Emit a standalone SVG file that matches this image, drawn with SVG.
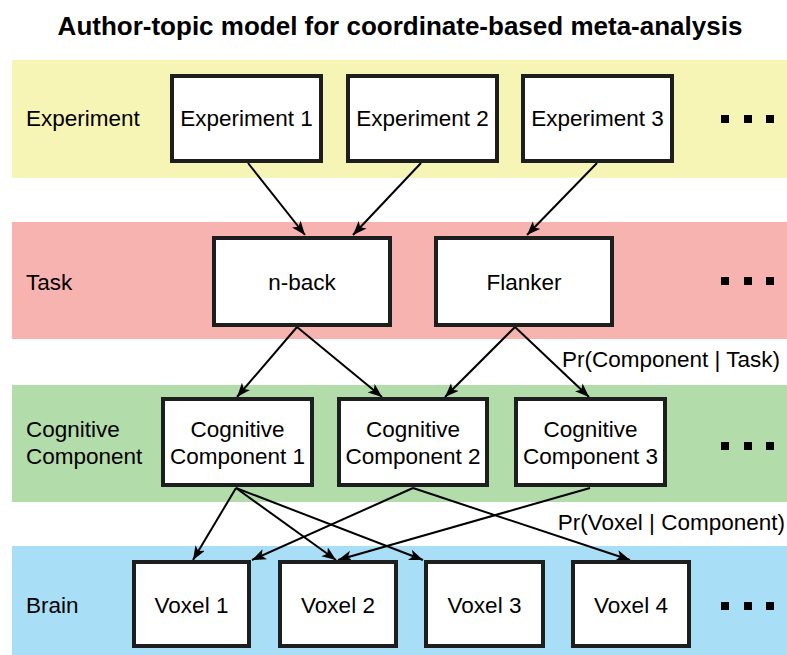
<svg xmlns="http://www.w3.org/2000/svg" width="787" height="655" viewBox="0 0 787 655">
<defs>
<style>
.t{font-family:"Liberation Sans",Arial,sans-serif;font-size:22.5px;fill:#000}
.c{text-anchor:middle}
.title{font-family:"Liberation Sans",Arial,sans-serif;font-size:26px;font-weight:bold;text-anchor:middle;fill:#000}
.box{fill:#fff;stroke:#1c1f1e;stroke-width:4}
.edge{stroke:#000;stroke-width:2;fill:none;marker-end:url(#ah)}
.dot{fill:#000}
</style>
<marker id="ah" markerUnits="userSpaceOnUse" markerWidth="15" markerHeight="12" refX="14" refY="5.5" orient="auto">
<path d="M0,0 L14,5.5 L0,11 L3.5,5.5 z" fill="#000"/>
</marker>
</defs>
<rect width="787" height="655" fill="#fff"/>
<text class="title" x="400" y="35">Author-topic model for coordinate-based meta-analysis</text>

<g id="bands">
<rect x="12" y="60" width="775" height="118" fill="#f7f5b6"/>
<rect x="12" y="222" width="775" height="117" fill="#f7b3b0"/>
<rect x="12" y="385" width="775" height="117" fill="#b3dcab"/>
<rect x="12" y="546" width="775" height="109" fill="#a8dff6"/>
</g>

<g id="row-labels">
<text class="t" x="26" y="126">Experiment</text>
<text class="t" x="26" y="290">Task</text>
<text class="t" x="26" y="437">Cognitive</text>
<text class="t" x="26" y="464">Component</text>
<text class="t" x="26" y="613">Brain</text>
</g>

<g id="connectors">
<line class="edge" x1="248" y1="163" x2="305" y2="235"/>
<line class="edge" x1="421" y1="163" x2="353" y2="235"/>
<line class="edge" x1="597" y1="163" x2="527" y2="235"/>
<line class="edge" x1="297" y1="327" x2="237" y2="397"/>
<line class="edge" x1="297" y1="327" x2="382" y2="397"/>
<line class="edge" x1="515" y1="327" x2="445" y2="397"/>
<line class="edge" x1="515" y1="327" x2="589" y2="397"/>
<line class="edge" x1="236" y1="488" x2="193" y2="560"/>
<line class="edge" x1="236" y1="488" x2="336" y2="560"/>
<line class="edge" x1="236" y1="488" x2="423" y2="560"/>
<line class="edge" x1="413" y1="488" x2="252" y2="560"/>
<line class="edge" x1="413" y1="488" x2="630" y2="560"/>
<line class="edge" x1="590" y1="488" x2="338" y2="560"/>
</g>

<g id="edge-labels">
<text class="t" x="780" y="367" text-anchor="end">Pr(Component | Task)</text>
<text class="t" x="785" y="530" text-anchor="end">Pr(Voxel | Component)</text>
</g>

<g id="exp1"><rect class="box" x="172" y="76" width="149" height="85"/><text class="t c" x="246.5" y="126">Experiment 1</text></g>
<g id="exp2"><rect class="box" x="348" y="76" width="149" height="85"/><text class="t c" x="422.5" y="126">Experiment 2</text></g>
<g id="exp3"><rect class="box" x="523" y="76" width="149" height="85"/><text class="t c" x="597.5" y="126">Experiment 3</text></g>

<g id="nback"><rect class="box" x="214" y="238" width="176" height="87"/><text class="t c" x="302" y="290">n-back</text></g>
<g id="flanker"><rect class="box" x="436" y="238" width="176" height="87"/><text class="t c" x="524" y="290">Flanker</text></g>

<g id="cc1"><rect class="box" x="163" y="399" width="149" height="86"/><text class="t c" x="237.5" y="437">Cognitive</text><text class="t c" x="237.5" y="464">Component 1</text></g>
<g id="cc2"><rect class="box" x="339" y="399" width="148" height="86"/><text class="t c" x="413" y="437">Cognitive</text><text class="t c" x="413" y="464">Component 2</text></g>
<g id="cc3"><rect class="box" x="516" y="399" width="149" height="86"/><text class="t c" x="590.5" y="437">Cognitive</text><text class="t c" x="590.5" y="464">Component 3</text></g>

<g id="v1"><rect class="box" x="134" y="562" width="115" height="84"/><text class="t c" x="191.5" y="613">Voxel 1</text></g>
<g id="v2"><rect class="box" x="280" y="562" width="116" height="84"/><text class="t c" x="338" y="613">Voxel 2</text></g>
<g id="v3"><rect class="box" x="426" y="562" width="117" height="84"/><text class="t c" x="484.5" y="613">Voxel 3</text></g>
<g id="v4"><rect class="box" x="573" y="562" width="116" height="84"/><text class="t c" x="631" y="613">Voxel 4</text></g>

<g id="ellipses">
<rect class="dot" x="721" y="115" width="8" height="8"/><rect class="dot" x="744" y="115" width="8" height="8"/><rect class="dot" x="766" y="115" width="8" height="8"/>
<rect class="dot" x="721" y="277" width="8" height="8"/><rect class="dot" x="744" y="277" width="8" height="8"/><rect class="dot" x="766" y="277" width="8" height="8"/>
<rect class="dot" x="721" y="442" width="8" height="8"/><rect class="dot" x="744" y="442" width="8" height="8"/><rect class="dot" x="766" y="442" width="8" height="8"/>
<rect class="dot" x="721" y="602" width="8" height="8"/><rect class="dot" x="744" y="602" width="8" height="8"/><rect class="dot" x="766" y="602" width="8" height="8"/>
</g>
</svg>
